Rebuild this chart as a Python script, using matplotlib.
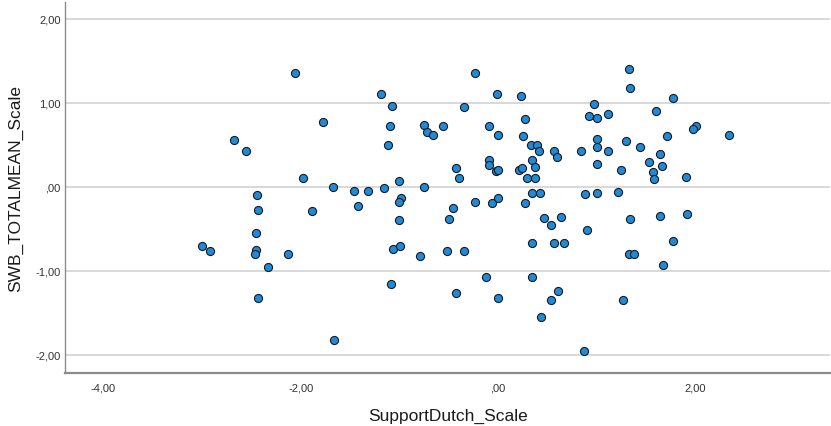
import matplotlib.pyplot as plt

# SupportDutch_Scale (x) vs SWB_TOTALMEAN_Scale (y), one value per respondent
support_dutch = [
    -2.06, -1.77, -2.68, -2.55, -1.98, -1.67, -1.46, -1.32, -2.44, -1.42,
    -2.43, -1.89, -2.45, -3.00, -2.92, -2.45, -2.46, -2.13, -2.33, -2.43,
    -1.66, -1.19, -1.07, -1.09, -1.12, -0.23, -0.01, 0.23, -0.35, -0.75,
    -0.72, -0.66, -0.56, -0.09, 0.00, 0.27, 0.25, 0.33, 0.39, 0.41,
    0.34, 0.37, -0.09, -0.09, -0.02, 0.00, 0.21, 0.24, -0.43, -0.40,
    0.29, 0.37, -1.00, -1.16, -0.75, -0.98, -1.00, -0.23, -0.06, 0.00,
    0.27, 0.34, 0.42, -0.46, -0.50, -1.00, 0.47, -1.06, -0.99, -0.79,
    -0.52, -0.35, 0.34, -1.08, -0.12, 0.34, -0.43, 0.00, 0.43, 1.33,
    1.34, 1.77, 0.97, 1.60, 0.92, 1.00, 1.11, 2.00, 1.97, 2.34,
    1.71, 1.00, 1.30, 1.44, 1.00, 0.57, 0.60, 0.84, 1.11, 1.64,
    1.00, 1.53, 1.66, 1.25, 1.57, 1.58, 1.90, 0.88, 1.00, 1.21,
    0.64, 0.54, 0.90, 0.57, 0.67, 1.34, 1.64, 1.91, 1.77, 1.33,
    1.38, 1.67, 0.61, 0.54, 1.27, 0.87,
]
swb_total = [
    1.35, 0.77, 0.56, 0.42, 0.10, 0.00, -0.05, -0.05, -0.10, -0.23,
    -0.28, -0.29, -0.55, -0.70, -0.76, -0.75, -0.80, -0.80, -0.95, -1.32,
    -1.83, 1.10, 0.96, 0.72, 0.50, 1.35, 1.10, 1.08, 0.95, 0.74,
    0.65, 0.62, 0.72, 0.72, 0.62, 0.81, 0.60, 0.50, 0.50, 0.43,
    0.32, 0.24, 0.32, 0.26, 0.19, 0.20, 0.20, 0.22, 0.22, 0.10,
    0.10, 0.10, 0.07, -0.02, 0.00, -0.14, -0.18, -0.18, -0.19, -0.13,
    -0.19, -0.08, -0.07, -0.25, -0.39, -0.40, -0.37, -0.74, -0.71, -0.83,
    -0.77, -0.76, -0.67, -1.16, -1.08, -1.08, -1.27, -1.33, -1.55, 1.40,
    1.17, 1.05, 0.99, 0.90, 0.84, 0.82, 0.87, 0.72, 0.69, 0.62,
    0.60, 0.57, 0.54, 0.47, 0.47, 0.43, 0.35, 0.43, 0.42, 0.39,
    0.27, 0.29, 0.25, 0.20, 0.17, 0.09, 0.12, -0.09, -0.08, -0.06,
    -0.36, -0.46, -0.52, -0.67, -0.67, -0.38, -0.35, -0.33, -0.65, -0.80,
    -0.80, -0.93, -1.24, -1.35, -1.35, -1.96,
]

x_ticks = [-4, -2, 0, 2]
x_tick_labels = ['-4,00', '-2,00', ',00', '2,00']
y_ticks = [-2, -1, 0, 1, 2]
y_tick_labels = ['-2,00', '-1,00', ',00', '1,00', '2,00']

plt.rcParams['font.family'] = ['Liberation Sans', 'DejaVu Sans']

fig = plt.figure(figsize=(8.31, 4.27), dpi=100)
ax = fig.add_axes([0.0786, 0.1248, 0.9204, 0.8675])

for y in y_ticks:
    ax.axhline(y, color='#d2d2d2', linewidth=1.2, zorder=1)

ax.scatter(support_dutch, swb_total, s=34, color='#1f8ad8',
           edgecolors='#1a1a1a', linewidths=0.8, zorder=3)

ax.set_xlim(-4.384, 3.364)
ax.set_ylim(-2.214, 2.195)
ax.set_xticks(x_ticks)
ax.set_xticklabels(x_tick_labels)
ax.set_yticks(y_ticks)
ax.set_yticklabels(y_tick_labels)
ax.tick_params(length=0, labelsize=8, colors='#333333')
ax.tick_params(axis='x', pad=7)
ax.tick_params(axis='y', pad=3.5)

for side in ['top', 'right']:
    ax.spines[side].set_visible(False)
ax.spines['left'].set_color('#8c8c8c')
ax.spines['left'].set_linewidth(1.0)
ax.spines['bottom'].set_color('#8c8c8c')
ax.spines['bottom'].set_linewidth(1.6)

ax.set_xlabel('SupportDutch_Scale', fontsize=12.5, color='#1a1a1a', labelpad=11)
ax.set_ylabel('SWB_TOTALMEAN_Scale', fontsize=12.5, color='#1a1a1a', labelpad=9)

plt.savefig('out.png', dpi=100)
plt.close()
